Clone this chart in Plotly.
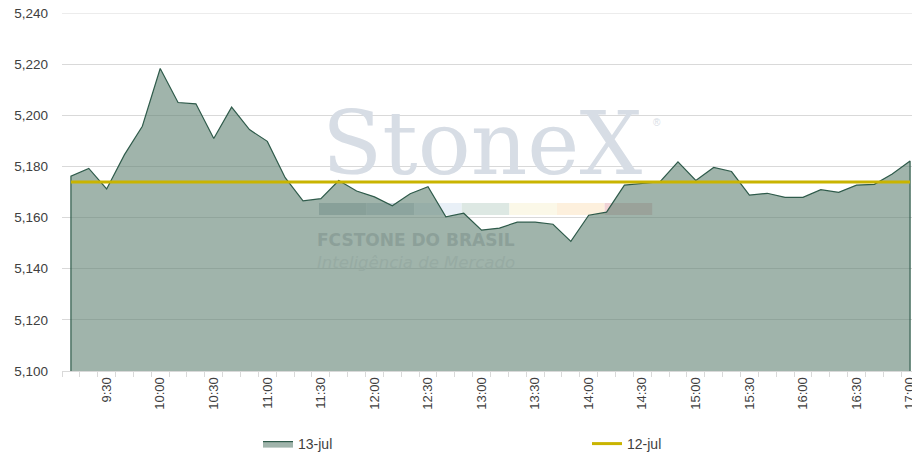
import plotly.graph_objects as go

# --- data ---
times = [
    "9:10", "9:20", "9:30", "9:40", "9:50", "10:00", "10:10", "10:20",
    "10:30", "10:40", "10:50", "11:00", "11:10", "11:20", "11:30", "11:40",
    "11:50", "12:00", "12:10", "12:20", "12:30", "12:40", "12:50", "13:00",
    "13:10", "13:20", "13:30", "13:40", "13:50", "14:00", "14:10", "14:20",
    "14:30", "14:40", "14:50", "15:00", "15:10", "15:20", "15:30", "15:40",
    "15:50", "16:00", "16:10", "16:20", "16:30", "16:40", "16:50", "17:00",
]

jul13 = [
    5176.2, 5179.2, 5171.2, 5184.6, 5195.7, 5218.3, 5205.0, 5204.5,
    5190.9, 5203.2, 5194.4, 5189.8, 5175.6, 5166.5, 5167.4, 5174.5,
    5170.4, 5168.1, 5164.6, 5169.3, 5172.1, 5160.3, 5161.7, 5155.1,
    5155.9, 5158.2, 5158.2, 5157.4, 5150.7, 5160.9, 5162.1, 5172.7,
    5173.4, 5174.0, 5181.8, 5174.5, 5179.6, 5178.0, 5168.8, 5169.5,
    5167.9, 5167.9, 5170.9, 5169.9, 5172.7, 5173.0, 5177.0, 5182.1,
]

jul12_close = 5173.9

y_min, y_max, y_step = 5100, 5240, 20

# label every 3rd slot (9:30, 10:00, ...)
label_idx = [i for i in range(len(times)) if i % 3 == 2]
label_txt = [times[i] for i in label_idx]

idx = list(range(len(times)))
last = idx[-1]

# page has an 8px body margin, so the figure is a bit smaller than the window
W, H = 912, 452
PL, PT, PW, PH = 62, 13, 857, 358   # plot box in window pixels


def px_x(x):
    return (x - PL) / PW


def px_y(y):
    return (PT + PH - y) / PH


fig = go.Figure()

# area with closed left/right edges like the excel border
fig.add_trace(go.Scatter(
    x=[idx[0]] + idx + [last],
    y=[y_min] + jul13 + [y_min],
    mode="lines",
    fill="tozeroy",
    fillcolor="rgba(97,130,115,0.6)",
    line=dict(color="#2f5b4b", width=1.2),
    name="13-jul",
    hoverinfo="skip",
))

fig.add_trace(go.Scatter(
    x=idx,
    y=[jul12_close] * len(idx),
    mode="lines",
    line=dict(color="#c9b400", width=3),
    name="12-jul",
))

# --- watermark (logo strip below the traces) ---
strip_cols = ["#c4ccd3", "#ccd7df", "#e9f0f7", "#dde8e3",
              "#fbf8e8", "#fdf0dd", "#f0d3d5"]
x0_px, seg_px = 319, 47.6
for k, c in enumerate(strip_cols):
    fig.add_shape(
        type="rect", xref="paper", yref="paper", layer="below",
        x0=px_x(x0_px + k * seg_px), x1=px_x(x0_px + (k + 1) * seg_px),
        y0=px_y(215), y1=px_y(203),
        fillcolor=c, line=dict(width=0),
    )

# top gridline sits on the plot edge, draw it so it is not clipped away
fig.add_shape(
    type="line", xref="paper", yref="y", layer="below",
    x0=0, x1=1, y0=y_max, y1=y_max,
    line=dict(color="#d9d9d9", width=1),
)

fig.add_annotation(
    text="StoneX", xref="paper", yref="paper",
    x=px_x(482), y=px_y(143), xanchor="center", yanchor="middle",
    showarrow=False,
    font=dict(family="DejaVu Serif", size=88, color="#d7dde5"),
)
fig.add_annotation(
    text="®", xref="paper", yref="paper",
    x=px_x(657), y=px_y(122), xanchor="center", yanchor="middle",
    showarrow=False,
    font=dict(family="Liberation Sans", size=10, color="#d7dde5"),
)
fig.add_annotation(
    text="<b>FCSTONE DO BRASIL</b>", xref="paper", yref="paper",
    x=px_x(316), y=px_y(240), xanchor="left", yanchor="middle",
    showarrow=False, borderpad=0,
    font=dict(family="DejaVu Sans", size=17, color="#8ca099"),
)
fig.add_annotation(
    text="<i>Inteligência de Mercado</i>", xref="paper", yref="paper",
    x=px_x(316), y=px_y(262), xanchor="left", yanchor="middle",
    showarrow=False, borderpad=0,
    font=dict(family="DejaVu Sans", size=16.5, color="#97aba3"),
)

fig.update_xaxes(
    range=[-0.5, last + 0.5], automargin=False,
    tickmode="array", tickvals=label_idx, ticktext=label_txt,
    tickangle=-90, ticks="",
    showgrid=False, zeroline=False,
    showline=True, linecolor="#d9d9d9", linewidth=1,
    minor=dict(ticks="outside", tickmode="linear", tick0=-0.5, dtick=1,
               ticklen=5, tickcolor="#d9d9d9", showgrid=False),
    tickfont=dict(family="Liberation Sans", size=13, color="#404040"),
)
fig.update_yaxes(
    range=[y_min, y_max], dtick=y_step, tickformat=",", automargin=False,
    showgrid=True, gridcolor="#d9d9d9", gridwidth=1,
    zeroline=False, showline=False, ticks="",
    ticklabelstandoff=13, ticklabeloverflow="allow",
    tickfont=dict(family="Liberation Sans", size=13.5, color="#404040"),
)

fig.update_layout(
    width=W, height=H,
    margin=dict(l=PL - 8, r=W - (PL - 8) - PW, t=PT - 8, b=H - (PT - 8) - PH,
                autoexpand=False),
    plot_bgcolor="white", paper_bgcolor="white",
    showlegend=True,
    legend=dict(
        orientation="h", xref="container", yref="container",
        x=250 / W, y=1 - 436 / H, xanchor="left", yanchor="middle",
        entrywidth=284, entrywidthmode="pixels",
        font=dict(family="Liberation Sans", size=14, color="#404040"),
        bgcolor="rgba(0,0,0,0)",
    ),
)

fig.write_html("out.html")
